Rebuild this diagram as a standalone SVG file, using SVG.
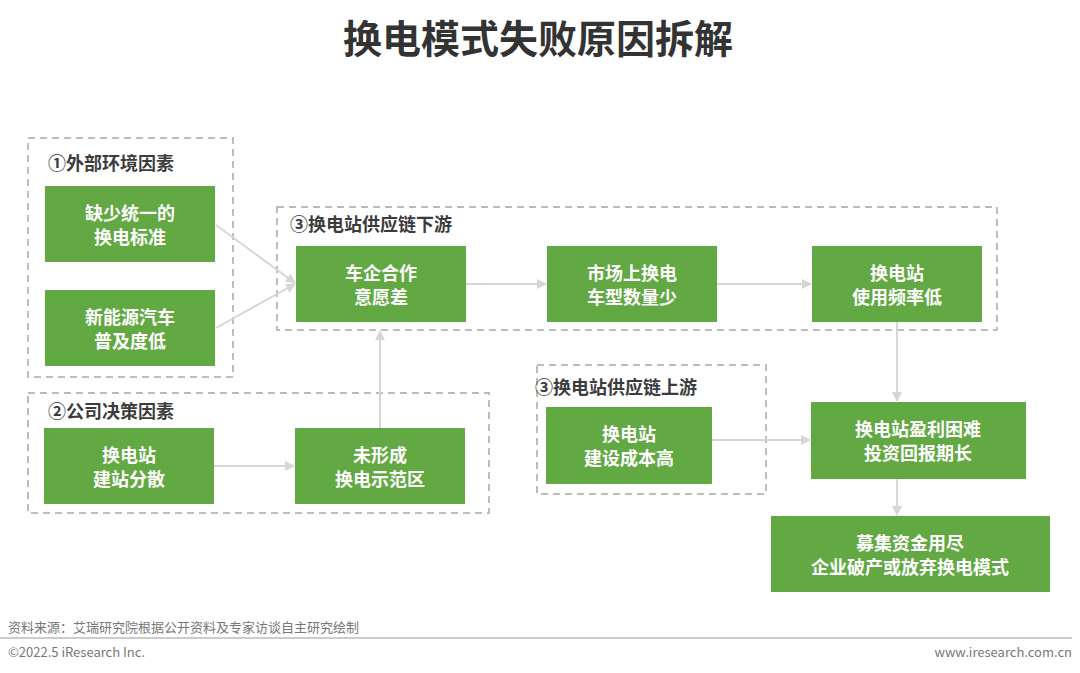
<svg xmlns="http://www.w3.org/2000/svg" width="1080" height="673" viewBox="0 0 1080 673">
<style>
.bg{fill:#fff}
.title{font-family:"Noto Sans CJK SC","Noto Sans",sans-serif;font-weight:700;font-size:39px;fill:#333;text-anchor:middle}
.grp{fill:none;stroke:#bdbdbd;stroke-width:2;stroke-dasharray:7 5}
.gt{font-family:"Noto Sans CJK SC","Noto Sans",sans-serif;font-weight:700;font-size:18px;fill:#3c3c3c}
.box{fill:#62a843}
.nt{font-family:"Noto Sans CJK SC","Noto Sans",sans-serif;font-weight:700;font-size:18px;fill:#fff;text-anchor:middle}
.con{stroke:#d6d6d6;stroke-width:2;fill:none;marker-end:url(#ah)}
.ft{font-family:"Noto Sans CJK SC","Liberation Sans",sans-serif;font-size:13px;fill:#777}
</style>
<defs>
<marker id="ah" viewBox="0 0 10 10" refX="9" refY="5" markerWidth="5" markerHeight="5" orient="auto">
<path d="M0,0 L10,5 L0,10 z" fill="#d6d6d6"/>
</marker>
</defs>
<rect class="bg" x="0" y="0" width="1080" height="673"/>
<text class="title" x="538" y="53">换电模式失败原因拆解</text>

<g id="group-external">
<rect class="grp" x="28" y="138" width="205" height="239"/>
<text class="gt" x="48" y="170">①外部环境因素</text>
</g>
<g id="group-downstream">
<rect class="grp" x="277" y="207" width="720" height="123"/>
<text class="gt" x="290" y="231">③换电站供应链下游</text>
</g>
<g id="group-company">
<rect class="grp" x="28" y="393" width="461" height="120"/>
<text class="gt" x="48" y="418">②公司决策因素</text>
</g>
<g id="group-upstream">
<rect class="grp" x="537" y="365" width="229" height="129"/>
<text class="gt" x="535" y="394">③换电站供应链上游</text>
</g>

<g id="connectors">
<line class="con" x1="216" y1="225" x2="295" y2="283"/>
<line class="con" x1="216" y1="328" x2="295" y2="284"/>
<line class="con" x1="466" y1="284" x2="546" y2="284"/>
<line class="con" x1="717" y1="284" x2="811" y2="284"/>
<line class="con" x1="897" y1="322" x2="897" y2="401"/>
<line class="con" x1="712" y1="440" x2="810" y2="440"/>
<line class="con" x1="897" y1="479" x2="897" y2="515"/>
<line class="con" x1="214" y1="466" x2="294" y2="466"/>
<line class="con" x1="380" y1="428" x2="380" y2="331"/>
</g>

<g id="n-standard">
<rect class="box" x="45" y="186" width="170" height="76"/>
<text class="nt" x="130" y="220">缺少统一的</text>
<text class="nt" x="130" y="244">换电标准</text>
</g>
<g id="n-nev">
<rect class="box" x="45" y="290" width="170" height="76"/>
<text class="nt" x="130" y="324">新能源汽车</text>
<text class="nt" x="130" y="348">普及度低</text>
</g>
<g id="n-oem">
<rect class="box" x="296" y="246" width="170" height="76"/>
<text class="nt" x="381" y="280">车企合作</text>
<text class="nt" x="381" y="304">意愿差</text>
</g>
<g id="n-models">
<rect class="box" x="547" y="246" width="170" height="76"/>
<text class="nt" x="632" y="280">市场上换电</text>
<text class="nt" x="632" y="304">车型数量少</text>
</g>
<g id="n-usage">
<rect class="box" x="812" y="246" width="170" height="76"/>
<text class="nt" x="897" y="280">换电站</text>
<text class="nt" x="897" y="304">使用频率低</text>
</g>
<g id="n-scattered">
<rect class="box" x="44" y="428" width="170" height="76"/>
<text class="nt" x="129" y="462">换电站</text>
<text class="nt" x="129" y="486">建站分散</text>
</g>
<g id="n-demo">
<rect class="box" x="295" y="428" width="170" height="76"/>
<text class="nt" x="380" y="462">未形成</text>
<text class="nt" x="380" y="486">换电示范区</text>
</g>
<g id="n-cost">
<rect class="box" x="546" y="407" width="166" height="77"/>
<text class="nt" x="629" y="441">换电站</text>
<text class="nt" x="629" y="465">建设成本高</text>
</g>
<g id="n-profit">
<rect class="box" x="811" y="402" width="215" height="77"/>
<text class="nt" x="918" y="436">换电站盈利困难</text>
<text class="nt" x="918" y="460">投资回报期长</text>
</g>
<g id="n-bankrupt">
<rect class="box" x="771" y="516" width="279" height="76"/>
<text class="nt" x="910" y="550">募集资金用尽</text>
<text class="nt" x="910" y="574">企业破产或放弃换电模式</text>
</g>

<g id="footer">
<text class="ft" x="8" y="632">资料来源：艾瑞研究院根据公开资料及专家访谈自主研究绘制</text>
<line x1="0" y1="638" x2="1072" y2="638" stroke="#999" stroke-width="1"/>
<text class="ft" x="8" y="657">©2022.5 iResearch Inc.</text>
<text class="ft" x="1072" y="657" text-anchor="end">www.iresearch.com.cn</text>
</g>
</svg>
